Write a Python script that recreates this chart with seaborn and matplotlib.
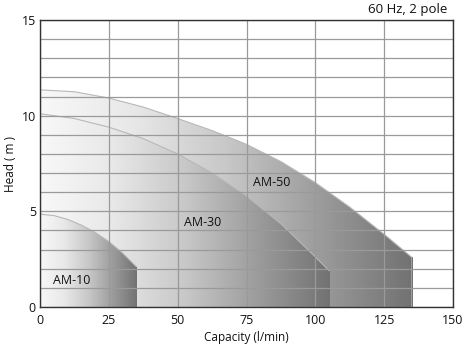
import numpy as np
import pandas as pd
import matplotlib
matplotlib.use("Agg")
import matplotlib.pyplot as plt
from matplotlib.patches import Polygon
from matplotlib.colors import LinearSegmentedColormap
import seaborn as sns

# Pump performance curves (capacity in l/min, head in m)
am10_q = [0, 5, 10, 15, 20, 25, 30, 35]
am10_h = [4.85, 4.78, 4.58, 4.28, 3.9, 3.42, 2.82, 2.1]

am30_q = [0, 12.5, 25, 37.5, 50, 62.5, 75, 87.5, 100, 105]
am30_h = [10.1, 9.85, 9.4, 8.8, 8.0, 7.0, 5.8, 4.35, 2.62, 1.9]

am50_q = [0, 12.5, 25, 37.5, 50, 62.5, 75, 87.5, 100, 112.5, 125, 130, 135]
am50_h = [11.35, 11.25, 10.92, 10.45, 9.85, 9.22, 8.5, 7.6, 6.5, 5.22, 3.8, 3.2, 2.6]

models = ["AM-50", "AM-30", "AM-10"]
label_pos = {"AM-10": (11.5, 1.4), "AM-30": (59, 4.4), "AM-50": (84, 6.5)}

x_ticks = [0, 25, 50, 75, 100, 125, 150]
y_ticks = [0, 5, 10, 15]

curves = pd.concat([
    pd.DataFrame({"model": "AM-50", "q": am50_q, "h": am50_h}),
    pd.DataFrame({"model": "AM-30", "q": am30_q, "h": am30_h}),
    pd.DataFrame({"model": "AM-10", "q": am10_q, "h": am10_h}),
])

sns.set_style("white")
plt.rcParams["font.family"] = ["Open Sans", "DejaVu Sans"]

fig = plt.figure(figsize=(4.66, 3.44), dpi=100)
ax = fig.add_axes([40 / 466, 37 / 344, 413 / 466, 287 / 344])

shade = LinearSegmentedColormap.from_list(
    "shade", ["#f8f8f8", "#e8e8e8", "#c8c8c8", "#9c9c9c", "#727272"])

for i, m in enumerate(models):
    d = curves[curves["model"] == m]
    q = d["q"].to_numpy()
    h = d["h"].to_numpy()
    verts = [(0, 0)] + list(zip(q, h)) + [(q[-1], 0)]
    poly = Polygon(verts, closed=True, facecolor="none", edgecolor="none")
    ax.add_patch(poly)
    grad = np.linspace(0, 1, 256).reshape(1, -1)
    im = ax.imshow(grad, cmap=shade, aspect="auto",
                   extent=[0, q[-1], 0, h.max()], origin="lower",
                   zorder=1 + i * 0.1, interpolation="bilinear")
    im.set_clip_path(poly)
    # edge along the top and the right end of each curve
    sns.lineplot(data=d, x="q", y="h", ax=ax, color="#b8b8b8",
                 linewidth=0.8, sort=False, estimator=None, zorder=1.05 + i * 0.1)
    ax.plot([q[-1], q[-1]], [0, h[-1]], color="#707070", lw=0.7,
            zorder=1.05 + i * 0.1)

for m, (x, y) in label_pos.items():
    ax.text(x, y, m, ha="center", va="center", fontsize=9, color="#111111",
            zorder=4)

ax.set_xlim(0, 150)
ax.set_ylim(0, 15)
ax.set_xticks(x_ticks)
ax.set_yticks(y_ticks)
ax.set_xticks(np.arange(0, 151, 25), minor=True)
ax.set_yticks(np.arange(0, 16, 1), minor=True)
ax.grid(which="minor", color="#9a9a9a", linewidth=0.9)
ax.grid(which="major", color="#9a9a9a", linewidth=0.9)
ax.set_axisbelow(False)
ax.tick_params(which="both", length=0, labelsize=9, colors="#111111", pad=5)
ax.tick_params(axis="y", pad=3)

for s in ax.spines.values():
    s.set_color("#333333")
    s.set_linewidth(1.0)
    s.set_zorder(5)

ax.set_xlabel("Capacity (l/min)", fontsize=8.5, color="#111111", labelpad=3)
ax.set_ylabel("Head ( m )", fontsize=8.5, color="#111111", labelpad=3)
fig.text(447 / 466, 1 - 9 / 344, "60 Hz, 2 pole", ha="right", va="center",
         fontsize=9.5, color="#111111")

fig.savefig("out.png", dpi=100)
